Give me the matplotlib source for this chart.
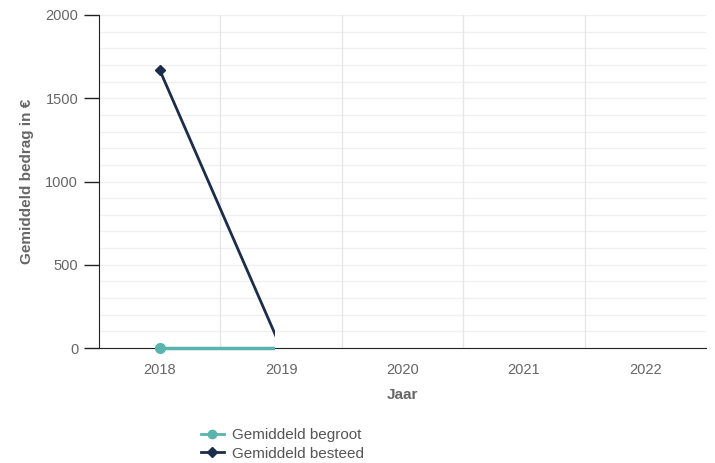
import matplotlib.pyplot as plt
from matplotlib.patches import Rectangle
from matplotlib.lines import Line2D

plt.rcParams['font.family'] = ['Liberation Sans', 'DejaVu Sans']

years = ['2018', '2019', '2020', '2021', '2022']
begroot = [0, 0, 0, 0, 0]
besteed = [1670, 0, 0, 0, 0]

teal = '#5ab4ae'
navy = '#1b2d4b'
grey = '#666666'

fig = plt.figure(figsize=(7.15, 4.63), dpi=100)
ax = fig.add_axes([99 / 715, 115 / 463, 607 / 715, 333 / 463])

x = list(range(len(years)))
# the reference catches the line drawing mid-animation, cut off just before 2019
clip = Rectangle((-0.5, -200), 1.45, 2400, transform=ax.transData)
l1, = ax.plot(x, besteed, color=navy, lw=2, marker='D', ms=5, zorder=3)
l2, = ax.plot(x, begroot, color=teal, lw=2.5, marker='o', ms=7, zorder=4)
l1.set_clip_path(clip)
l2.set_clip_path(clip)

ax.set_xlim(-0.5, 4.5)
ax.set_ylim(0, 2000)
ax.set_xticks(x)
ax.set_xticklabels(years)
ax.set_yticks([0, 500, 1000, 1500, 2000])

for y in range(100, 2001, 100):
    ax.axhline(y, color='#f0f0f0', lw=1, zorder=0)
for b in [0.5, 1.5, 2.5, 3.5]:
    ax.axvline(b, color='#e6e6e6', lw=1, zorder=0)

for s in ['top', 'right']:
    ax.spines[s].set_visible(False)
ax.spines['left'].set_color('#222222')
ax.spines['bottom'].set_color('#222222')

ax.tick_params(axis='y', which='major', length=11, width=1, color='#222222',
               labelsize=10.5, labelcolor=grey, pad=4)
ax.tick_params(axis='x', which='both', length=0, labelsize=10.5,
               labelcolor=grey, pad=11)

ax.set_xlabel('Jaar', fontsize=11, fontweight='bold', color=grey, labelpad=8)
ax.set_ylabel('Gemiddeld bedrag in €', fontsize=11, fontweight='bold',
              color=grey, labelpad=8)

handles = [Line2D([], [], color=teal, lw=2, marker='o', ms=6),
           Line2D([], [], color=navy, lw=2, marker='D', ms=5)]
fig.legend(handles, ['Gemiddeld begroot', 'Gemiddeld besteed'],
           loc='upper left', bbox_to_anchor=(201 / 715, 1 - 428 / 463),
           frameon=False, fontsize=11, labelcolor='#555555',
           handlelength=1.5, handletextpad=0.5, labelspacing=0.3,
           borderaxespad=0, borderpad=0)

fig.savefig('out.png', dpi=100)
